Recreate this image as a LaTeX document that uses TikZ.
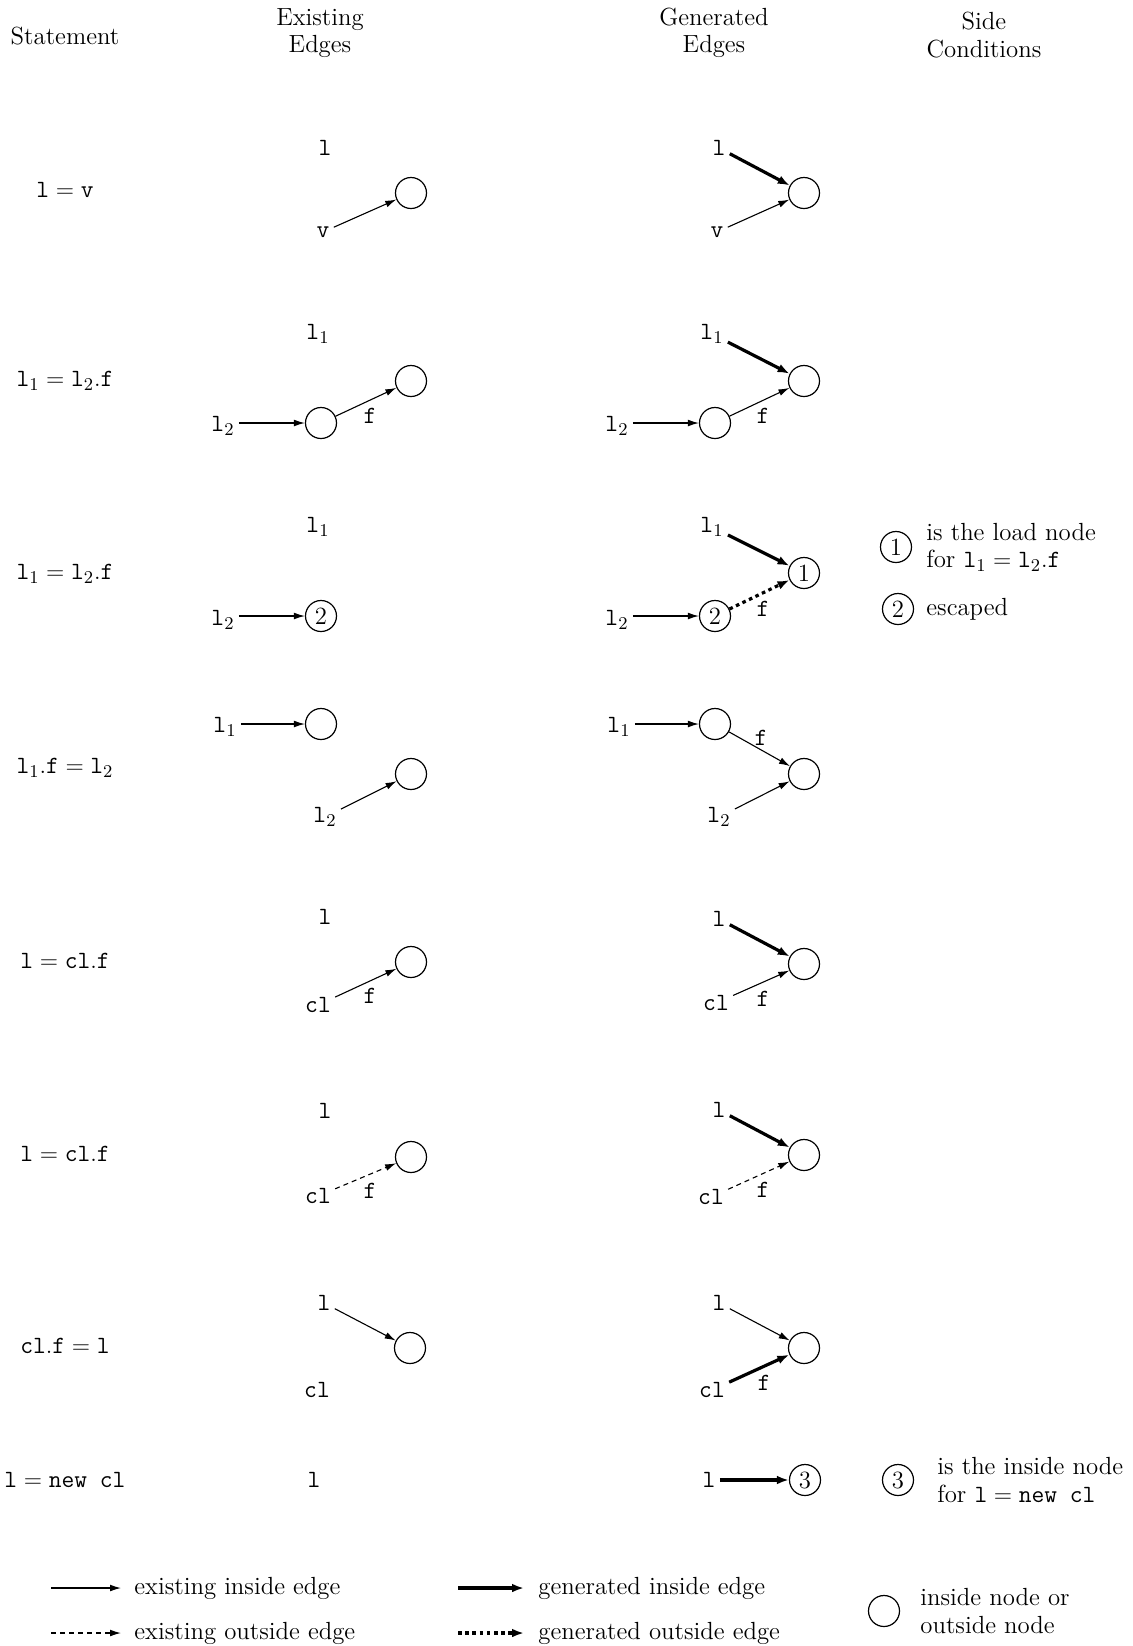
\documentclass[tikz,border=0pt]{standalone}
\usepackage{fontspec}
\usetikzlibrary{arrows.meta}
\tikzset{
  nd/.style={circle, draw, line width=0.6pt, minimum size=15.5pt, inner sep=0pt},
  lb/.style={inner sep=2pt},
  flab/.style={inner sep=1pt},
  ein/.style={-{Latex[length=5.5pt,width=3.4pt]}, line width=0.55pt},
  eout/.style={ein, dash pattern=on 2.5pt off 2pt},
  gin/.style={-{Latex[length=6pt,width=4.4pt]}, line width=1.6pt},
  gout/.style={gin, dash pattern=on 1.8pt off 1.8pt},
  txt/.style={anchor=west, align=left, inner sep=2pt},
}
\begin{document}
\begin{tikzpicture}[x=0.5pt, y=-0.5pt, font=\fontsize{12.4pt}{13.7pt}\selectfont]
\useasboundingbox (0,0) rectangle (1133,1646);
% headers
\node (hS) at (65,36) {Statement};
\node[align=center] (hE) at (320,33) {Existing\\Edges};
\node[align=center] (hG) at (714,33) {Generated\\Edges};
\node[align=center] (hC) at (984,35) {Side\\Conditions};
% row 1
\node (s1) at (65,190) {$\mathtt{l}=\mathtt{v}$};
\node[lb] (e1l) at (325,148) {\texttt{l}};
\node[nd] (e1c) at (411,193) {};
\node[lb] (e1v) at (323,232) {\texttt{v}};
\draw[ein] (e1v) -- (e1c);
\node[lb] (g1l) at (719,148) {\texttt{l}};
\node[nd] (g1c) at (804,193) {};
\node[lb] (g1v) at (717,232) {\texttt{v}};
\draw[gin] (g1l) -- (g1c);
\draw[ein] (g1v) -- (g1c);
% row 2
\node (s2) at (65,381) {$\mathtt{l}_1=\mathtt{l}_2.\mathtt{f}$};
\node[lb] (e2l1) at (318,334) {$\mathtt{l}_1$};
\node[nd] (e2a) at (411,381) {};
\node[nd] (e2b) at (321,423) {};
\node[lb] (e2l2) at (223,426) {$\mathtt{l}_2$};
\draw[ein] (e2l2.east |- e2b) -- (e2b);
\draw[ein] (e2b) -- (e2a);
\node[flab] (e2f) at (370,416) {\texttt{f}};
\node[lb] (g2l1) at (712,334) {$\mathtt{l}_1$};
\node[nd] (g2a) at (804,381) {};
\node[nd] (g2b) at (715,423) {};
\node[lb] (g2l2) at (617,426) {$\mathtt{l}_2$};
\draw[ein] (g2l2.east |- g2b) -- (g2b);
\draw[ein] (g2b) -- (g2a);
\draw[gin] (g2l1) -- (g2a);
\node[flab] (g2f) at (763,416) {\texttt{f}};
% row 3
\node (s3) at (65,574) {$\mathtt{l}_1=\mathtt{l}_2.\mathtt{f}$};
\node[lb] (e3l1) at (318,527) {$\mathtt{l}_1$};
\node[lb] (e3l2) at (223,620) {$\mathtt{l}_2$};
\node[nd] (e3n2) at (321,616) {2};
\draw[ein] (e3l2.east |- e3n2) -- (e3n2);
\node[lb] (g3l1) at (712,527) {$\mathtt{l}_1$};
\node[nd] (g3n1) at (804,573) {1};
\node[lb] (g3l2) at (617,620) {$\mathtt{l}_2$};
\node[nd] (g3n2) at (715,616) {2};
\draw[ein] (g3l2.east |- g3n2) -- (g3n2);
\draw[gin] (g3l1) -- (g3n1);
\draw[gout] (g3n2) -- (g3n1);
\node[flab] (g3f) at (763,609) {\texttt{f}};
\node[nd] (c1) at (896,547) {1};
\node[txt] (c1t) at (922,547) {is the load node\\for $\mathtt{l}_1=\mathtt{l}_2.\mathtt{f}$};
\node[nd] (c2) at (898,609) {2};
\node[txt] (c2t) at (922,609) {escaped};
% row 4
\node (s4) at (65,768) {$\mathtt{l}_1.\mathtt{f}=\mathtt{l}_2$};
\node[lb] (e4l1) at (225,727) {$\mathtt{l}_1$};
\node[nd] (e4a) at (321,724) {};
\node[nd] (e4b) at (411,774) {};
\node[lb] (e4l2) at (325,817) {$\mathtt{l}_2$};
\draw[ein] (e4l1.east |- e4a) -- (e4a);
\draw[ein] (e4l2) -- (e4b);
\node[lb] (g4l1) at (619,727) {$\mathtt{l}_1$};
\node[nd] (g4a) at (715,724) {};
\node[nd] (g4b) at (804,774) {};
\node[lb] (g4l2) at (719,817) {$\mathtt{l}_2$};
\draw[ein] (g4l1.east |- g4a) -- (g4a);
\draw[ein] (g4l2) -- (g4b);
\draw[ein] (g4a) -- (g4b);
\node[flab] (g4f) at (761,738) {\texttt{f}};
% row 5
\node (s5) at (65,961) {$\mathtt{l}=\mathtt{cl}.\mathtt{f}$};
\node[lb] (e5l) at (325,917) {\texttt{l}};
\node[nd] (e5c) at (411,962) {};
\node[lb] (e5cl) at (318,1005) {\texttt{cl}};
\draw[ein] (e5cl) -- (e5c);
\node[flab] (e5f) at (370,996) {\texttt{f}};
\node[lb] (g5l) at (719,919) {\texttt{l}};
\node[nd] (g5c) at (804,964) {};
\node[lb] (g5cl) at (716,1003) {\texttt{cl}};
\draw[gin] (g5l) -- (g5c);
\draw[ein] (g5cl) -- (g5c);
\node[flab] (g5f) at (763,999) {\texttt{f}};
% row 6
\node (s6) at (65,1154) {$\mathtt{l}=\mathtt{cl}.\mathtt{f}$};
\node[lb] (e6l) at (325,1111) {\texttt{l}};
\node[nd] (e6c) at (411,1157) {};
\node[lb] (e6cl) at (318,1196) {\texttt{cl}};
\draw[eout] (e6cl) -- (e6c);
\node[flab] (e6f) at (370,1191) {\texttt{f}};
\node[lb] (g6l) at (719,1110) {\texttt{l}};
\node[nd] (g6c) at (804,1155) {};
\node[lb] (g6cl) at (711,1197) {\texttt{cl}};
\draw[gin] (g6l) -- (g6c);
\draw[eout] (g6cl) -- (g6c);
\node[flab] (g6f) at (763,1190) {\texttt{f}};
% row 7
\node (s7) at (65,1346) {$\mathtt{cl}.\mathtt{f}=\mathtt{l}$};
\node[lb] (e7l) at (324,1303) {\texttt{l}};
\node[nd] (e7c) at (410,1348) {};
\node[lb] (e7cl) at (317,1390) {\texttt{cl}};
\draw[ein] (e7l) -- (e7c);
\node[lb] (g7l) at (719,1303) {\texttt{l}};
\node[nd] (g7c) at (804,1348) {};
\node[lb] (g7cl) at (712,1390) {\texttt{cl}};
\draw[ein] (g7l) -- (g7c);
\draw[gin] (g7cl) -- (g7c);
\node[flab] (g7f) at (764,1383) {\texttt{f}};
% row 8
\node (s8) at (65,1480) {$\mathtt{l}=\texttt{new cl}$};
\node[lb] (e8l) at (314,1480) {\texttt{l}};
\node[lb] (g8l) at (709,1480) {\texttt{l}};
\node[nd] (g8n3) at (805,1480) {3};
\draw[gin] (g8l) -- (g8n3);
\node[nd] (c3) at (898,1480) {3};
\node[txt] (c3t) at (933,1480) {is the inside node\\for $\mathtt{l}=\texttt{new cl}$};
% legend
\coordinate (L1s) at (51,1588); \coordinate (L1e) at (121,1588);
\coordinate (L2s) at (51,1633); \coordinate (L2e) at (121,1633);
\coordinate (L3s) at (458,1588); \coordinate (L3e) at (524,1588);
\coordinate (L4s) at (458,1633); \coordinate (L4e) at (524,1633);
\draw[ein] (L1s) -- (L1e);
\draw[eout] (L2s) -- (L2e);
\draw[gin] (L3s) -- (L3e);
\draw[gout] (L4s) -- (L4e);
\node[txt] (L1t) at (130,1588) {existing inside edge};
\node[txt] (L2t) at (130,1633) {existing outside edge};
\node[txt] (L3t) at (534,1588) {generated inside edge};
\node[txt] (L4t) at (534,1633) {generated outside edge};
\node[nd] (Lc) at (884,1611) {};
\node[txt] (Lct) at (916,1611) {inside node or\\outside node};
\end{tikzpicture}
\end{document}
